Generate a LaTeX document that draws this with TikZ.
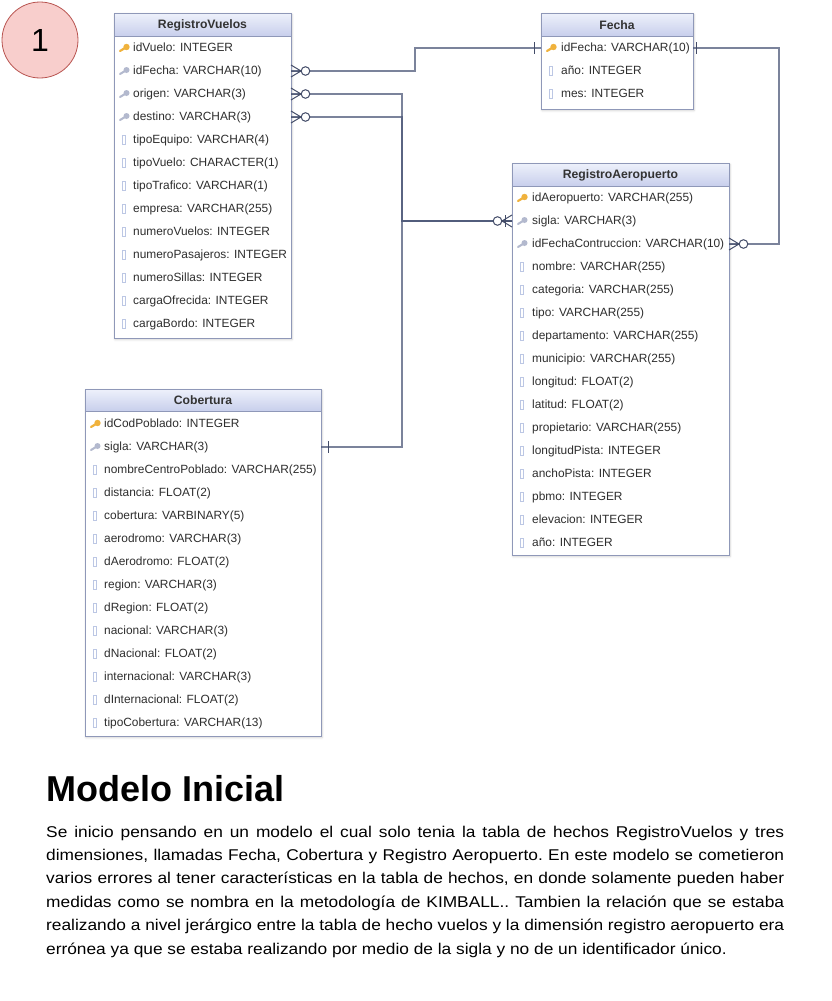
\documentclass[tikz,border=0pt]{standalone}
\usepackage{fontspec}
\setmainfont{Liberation Sans}
\newfontfamily\bodyfont[FakeStretch=1.11]{Liberation Sans}
\usepackage{xcolor}
\usetikzlibrary{shadows.blur,positioning,calc}

\definecolor{tblline}{HTML}{8F98B8}
\definecolor{headtop}{HTML}{EEF1FB}
\definecolor{headbot}{HTML}{C8CFEC}
\definecolor{headtxt}{HTML}{333333}
\definecolor{rowtxt}{HTML}{2E2E2E}
\definecolor{relline}{HTML}{4F5A7A}
\definecolor{pkkey}{HTML}{F0B23C}
\definecolor{fkkey}{HTML}{B3B9CE}
\definecolor{colicon}{HTML}{BCC7E4}
\definecolor{numfill}{HTML}{F8CECC}
\definecolor{numline}{HTML}{B85450}

\tikzset{
  tbl/.style={draw=tblline, fill=white, line width=0.9pt,
    blur shadow={shadow xshift=1pt, shadow yshift=-1.5pt, shadow blur steps=4, shadow opacity=20}},
  tblhead/.style={draw=tblline, line width=0.9pt, top color=headtop, bottom color=headbot},
  tbltitle/.style={font=\fontsize{12.2}{14}\selectfont\bfseries, text=headtxt, inner sep=0pt},
  colrow/.style={anchor=west, inner sep=0pt, text height=9pt, text depth=2.5pt,
    font=\fontsize{11.9}{14}\selectfont, text=rowtxt},
  rel/.style={draw=relline, line width=1.2pt, opacity=0.75},
  relmark/.style={draw=relline!85!black, line width=1pt},
  pics/crowzero/.style={code={
    \draw[relmark] (0,-6) -- (10,0) -- (0,6) (0,0) -- (10,0);
    \draw[relmark, fill=white] (14.5,0) circle (4.3);
  }},
  pics/onebar/.style={code={
    \draw[relmark] (#1,-6) -- (#1,6);
  }},
  pics/onebar/.default=7,
  pics/pkmark/.style={code={
    \draw[pkkey, line width=2.2pt, line cap=round] (-4,3) -- (1,0);
    \fill[pkkey] (2.5,-1) circle (3.2);
  }},
  pics/fkmark/.style={code={
    \draw[fkkey, line width=2pt, line cap=round] (-4,3) -- (1,0);
    \fill[fkkey] (2.5,-1) circle (3);
  }},
  pics/colmark/.style={code={
    \draw[colicon, line width=0.8pt] (-1.5,-4.5) rectangle (1.5,4.5);
  }}
}

% 0 = plain column, 1 = primary key, 2 = foreign key
\newcommand{\rowicon}[2]{%
  \ifnum#1=0 \pic at (#2) {colmark};\fi
  \ifnum#1=1 \pic at (#2) {pkmark};\fi
  \ifnum#1=2 \pic at (#2) {fkmark};\fi
}

\begin{document}
\begin{tikzpicture}[x=1pt,y=-1pt]

  \useasboundingbox (0,0) rectangle (831,1001);

  \node[circle, draw=numline, fill=numfill, line width=0.8pt, minimum size=76pt,
        font=\fontsize{32}{32}\selectfont] (num) at (40,40) {1};

  % RegistroVuelos
  \draw[tbl] (114,13) rectangle (291,338);
  \draw[tblhead] (114,13) rectangle (291,36);
  \node[tbltitle] (rv) at (202.5,25) {RegistroVuelos};
  \foreach \k/\t [count=\i] in {1/idVuelo: INTEGER, 2/idFecha: VARCHAR(10), 2/origen: VARCHAR(3),
      2/destino: VARCHAR(3), 0/tipoEquipo: VARCHAR(4), 0/tipoVuelo: CHARACTER(1),
      0/tipoTrafico: VARCHAR(1), 0/empresa: VARCHAR(255), 0/numeroVuelos: INTEGER,
      0/numeroPasajeros: INTEGER, 0/numeroSillas: INTEGER, 0/cargaOfrecida: INTEGER,
      0/cargaBordo: INTEGER}{
    \pgfmathsetmacro\ry{48+23*(\i-1)}
    \rowicon{\k}{124,\ry}
    \node[colrow] (rv-\i) at (133,\ry) {\t};
    \coordinate (rv-\i-l) at (114,\ry);
    \coordinate (rv-\i-r) at (291,\ry);
  }

  % Fecha
  \draw[tbl] (541,13) rectangle (693,109);
  \draw[tblhead] (541,13) rectangle (693,36);
  \node[tbltitle] (fe) at (617,25) {Fecha};
  \foreach \k/\t [count=\i] in {1/idFecha: VARCHAR(10), 0/año: INTEGER, 0/mes: INTEGER}{
    \pgfmathsetmacro\ry{48+23*(\i-1)}
    \rowicon{\k}{551,\ry}
    \node[colrow] (fe-\i) at (561,\ry) {\t};
    \coordinate (fe-\i-l) at (541,\ry);
    \coordinate (fe-\i-r) at (693,\ry);
  }

  % RegistroAeropuerto
  \draw[tbl] (512,163) rectangle (729,555);
  \draw[tblhead] (512,163) rectangle (729,186);
  \node[tbltitle] (ra) at (620.5,175) {RegistroAeropuerto};
  \foreach \k/\t [count=\i] in {1/idAeropuerto: VARCHAR(255), 2/sigla: VARCHAR(3),
      2/idFechaContruccion: VARCHAR(10), 0/nombre: VARCHAR(255), 0/categoria: VARCHAR(255),
      0/tipo: VARCHAR(255), 0/departamento: VARCHAR(255), 0/municipio: VARCHAR(255),
      0/longitud: FLOAT(2), 0/latitud: FLOAT(2), 0/propietario: VARCHAR(255),
      0/longitudPista: INTEGER, 0/anchoPista: INTEGER, 0/pbmo: INTEGER,
      0/elevacion: INTEGER, 0/año: INTEGER}{
    \pgfmathsetmacro\ry{198+23*(\i-1)}
    \rowicon{\k}{522,\ry}
    \node[colrow] (ra-\i) at (532,\ry) {\t};
    \coordinate (ra-\i-l) at (512,\ry);
    \coordinate (ra-\i-r) at (729,\ry);
  }

  % Cobertura
  \draw[tbl] (85,389) rectangle (321,736);
  \draw[tblhead] (85,389) rectangle (321,411);
  \node[tbltitle] (co) at (203,400) {Cobertura};
  \foreach \k/\t [count=\i] in {1/idCodPoblado: INTEGER, 2/sigla: VARCHAR(3),
      0/nombreCentroPoblado: VARCHAR(255), 0/distancia: FLOAT(2), 0/cobertura: VARBINARY(5),
      0/aerodromo: VARCHAR(3), 0/dAerodromo: FLOAT(2), 0/region: VARCHAR(3),
      0/dRegion: FLOAT(2), 0/nacional: VARCHAR(3), 0/dNacional: FLOAT(2),
      0/internacional: VARCHAR(3), 0/dInternacional: FLOAT(2), 0/tipoCobertura: VARCHAR(13)}{
    \pgfmathsetmacro\ry{424+23*(\i-1)}
    \rowicon{\k}{95,\ry}
    \node[colrow] (co-\i) at (104,\ry) {\t};
    \coordinate (co-\i-l) at (85,\ry);
    \coordinate (co-\i-r) at (321,\ry);
  }

  % relations
  \coordinate (fj) at (415,48);
  \coordinate (bus) at (402,221);
  \coordinate (fr) at (779,48);

  \draw[rel] (rv-2-r) -| (fj) -- (fe-1-l);
  \draw[rel] (rv-3-r) -| (bus) -- (ra-2-l);
  \draw[rel] (rv-4-r) -| (bus) -- (ra-2-l);
  \draw[rel] (co-2-r) -| (bus) -- (ra-2-l);
  \draw[rel] (fe-1-r) -- (fr) |- (ra-3-r);

  \foreach \r in {2,3,4}
    \pic at (rv-\r-r) {crowzero};
  \pic[xscale=-1] at (fe-1-l) {onebar};
  \pic at (fe-1-r) {onebar=3};
  \pic at (co-2-r) {onebar};
  \pic[xscale=-1] at (ra-2-l) {crowzero};
  \pic[xscale=-1] at (ra-2-l) {onebar};
  \pic at (ra-3-r) {crowzero};

  % text below
  \node[anchor=base west, inner sep=0pt, font=\fontsize{36}{40}\selectfont\bfseries] (title)
    at (46,801) {Modelo Inicial};

  \node[anchor=north west, inner sep=0pt, text width=738pt, align=justify,
        font=\bodyfont\fontsize{15.6}{23.4}\selectfont\frenchspacing] (txt) at (46,825.5)
    {Se inicio pensando en un modelo el cual solo tenia la tabla de hechos RegistroVuelos y tres\linebreak
     dimensiones, llamadas Fecha, Cobertura y Registro Aeropuerto. En este modelo se cometieron\linebreak
     varios errores al tener características en la tabla de hechos, en donde solamente pueden haber\linebreak
     medidas como se nombra en la metodología de KIMBALL.. Tambien la relación que se estaba\linebreak
     realizando a nivel jerárgico entre la tabla de hecho vuelos y la dimensión registro aeropuerto era\linebreak
     errónea ya que se estaba realizando por medio de la sigla y no de un identificador único.};

\end{tikzpicture}
\end{document}
